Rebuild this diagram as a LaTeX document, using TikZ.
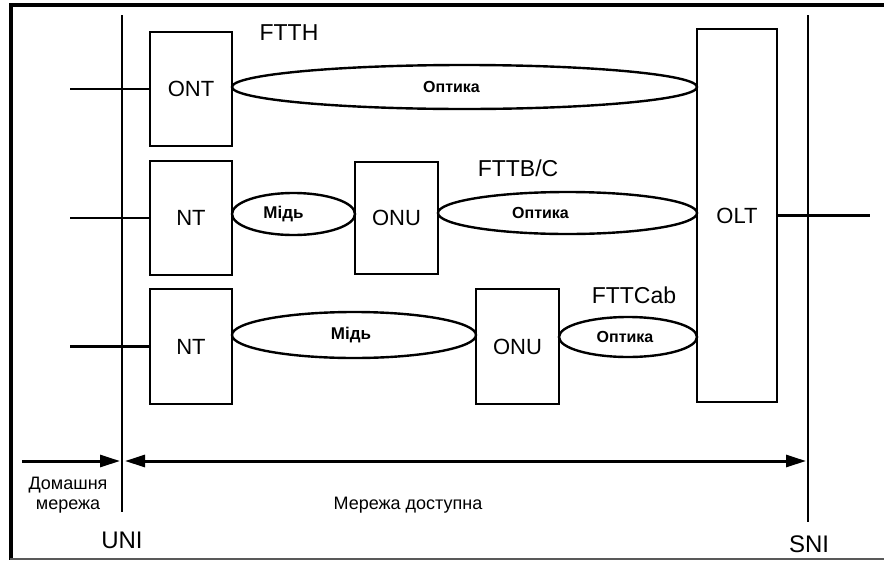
\documentclass[tikz,border=0pt]{standalone}
\usepackage{fontspec}
\setmainfont{Liberation Sans}
\usetikzlibrary{arrows.meta,shapes.geometric}

\tikzset{
  unit/.style={draw, line width=2.8pt, inner sep=0pt, font=\fontsize{22}{26}\selectfont},
  lens/.style={draw, ellipse, line width=2.4pt, inner sep=0pt},
  optlbl/.style={font=\fontsize{16}{18}\selectfont\bfseries},
  culbl/.style={font=\fontsize{17}{19}\selectfont\bfseries},
  tag/.style={font=\fontsize{23}{26}\selectfont},
  note/.style={font=\fontsize{18}{20}\selectfont, align=center},
  iface/.style={line width=2.8pt},
  span/.style={line width=3pt},
  tip/.tip={Triangle[length=20pt, width=12pt]}
}

\begin{document}
\begin{tikzpicture}[x=1pt, y=-1pt]
  \useasboundingbox (0,0) rectangle (884,560);

  % Frame
  \draw[line width=4pt] (10,5) -- (884,5);
  \draw[line width=3.5pt] (11,3) -- (11,560);
  \draw[gray!70!black, line width=2pt] (10,559) -- (884,559);

  % Interfaces
  \coordinate (uniTop) at (122,15);
  \coordinate (uniBot) at (122,512);
  \coordinate (sniTop) at (808,15);
  \coordinate (sniBot) at (808,522);
  \draw[iface] (uniTop) -- (uniBot);
  \draw[iface] (sniTop) -- (sniBot);

  % Boxes
  \node[unit, minimum width=82pt, minimum height=114pt] (ont)  at (191,89)    {ONT};
  \node[unit, minimum width=82pt, minimum height=114pt] (ntB)  at (191,218)   {NT};
  \node[unit, minimum width=82pt, minimum height=115pt] (ntC)  at (191,346.5) {NT};
  \node[unit, minimum width=83pt, minimum height=112pt] (onuB) at (396.5,218) {ONU};
  \node[unit, minimum width=83pt, minimum height=115pt] (onuC) at (517.5,346.5) {ONU};
  \node[unit, minimum width=80pt, minimum height=373pt] (olt)  at (737,215.5) {OLT};

  % Media
  \node[lens, minimum width=465pt, minimum height=44pt,
    label={[optlbl, xshift=-13pt]center:Оптика}] (fibA) at (464.5,87) {};
  \node[lens, minimum width=123pt, minimum height=42pt,
    label={[culbl, xshift=-10pt]center:Мідь}] (cuB) at (293.5,214) {};
  \node[lens, minimum width=259pt, minimum height=42pt,
    label={[optlbl, xshift=-27pt]center:Оптика}] (fibB) at (567.5,213) {};
  \node[lens, minimum width=244pt, minimum height=46pt,
    label={[culbl, xshift=-3pt]center:Мідь}] (cuC) at (354,335) {};
  \node[lens, minimum width=138pt, minimum height=40pt,
    label={[optlbl, xshift=-3pt]center:Оптика}] (fibC) at (628,337) {};

  % Subscriber and network lines
  \coordinate (inA) at (70,89);
  \coordinate (inB) at (70,218);
  \coordinate (inC) at (70,346.5);
  \coordinate (outN) at (870,215.5);
  \draw[iface] (inA) -- (ont.west);
  \draw[iface] (inB) -- (ntB.west);
  \draw[iface] (inC) -- (ntC.west);
  \draw[iface] (olt.east) -- (outN);

  % Scenario labels
  \node[tag] (ftth)  at (289,33)  {FTTH};
  \node[tag] (fttb)  at (518,168) {FTTB/C};
  \node[tag] (fttc)  at (634,295) {FTTCab};

  % Network spans
  \coordinate (homeL) at (22,461);
  \coordinate (homeR) at (120,461);
  \coordinate (accL) at (125,461);
  \coordinate (accR) at (806,461);
  \draw[span, -{tip}] (homeL) -- (homeR);
  \draw[span, {tip}-{tip}] (accL) -- (accR);

  \node[note] (home) at (68,495) {Домашня\\мережа};
  \node[note] (acc)  at (408,505) {Мережа доступна};
  \node[font=\fontsize{24}{26}\selectfont] (uni) at (122,540) {UNI};
  \node[font=\fontsize{24}{26}\selectfont] (sni) at (809,544) {SNI};
\end{tikzpicture}
\end{document}
